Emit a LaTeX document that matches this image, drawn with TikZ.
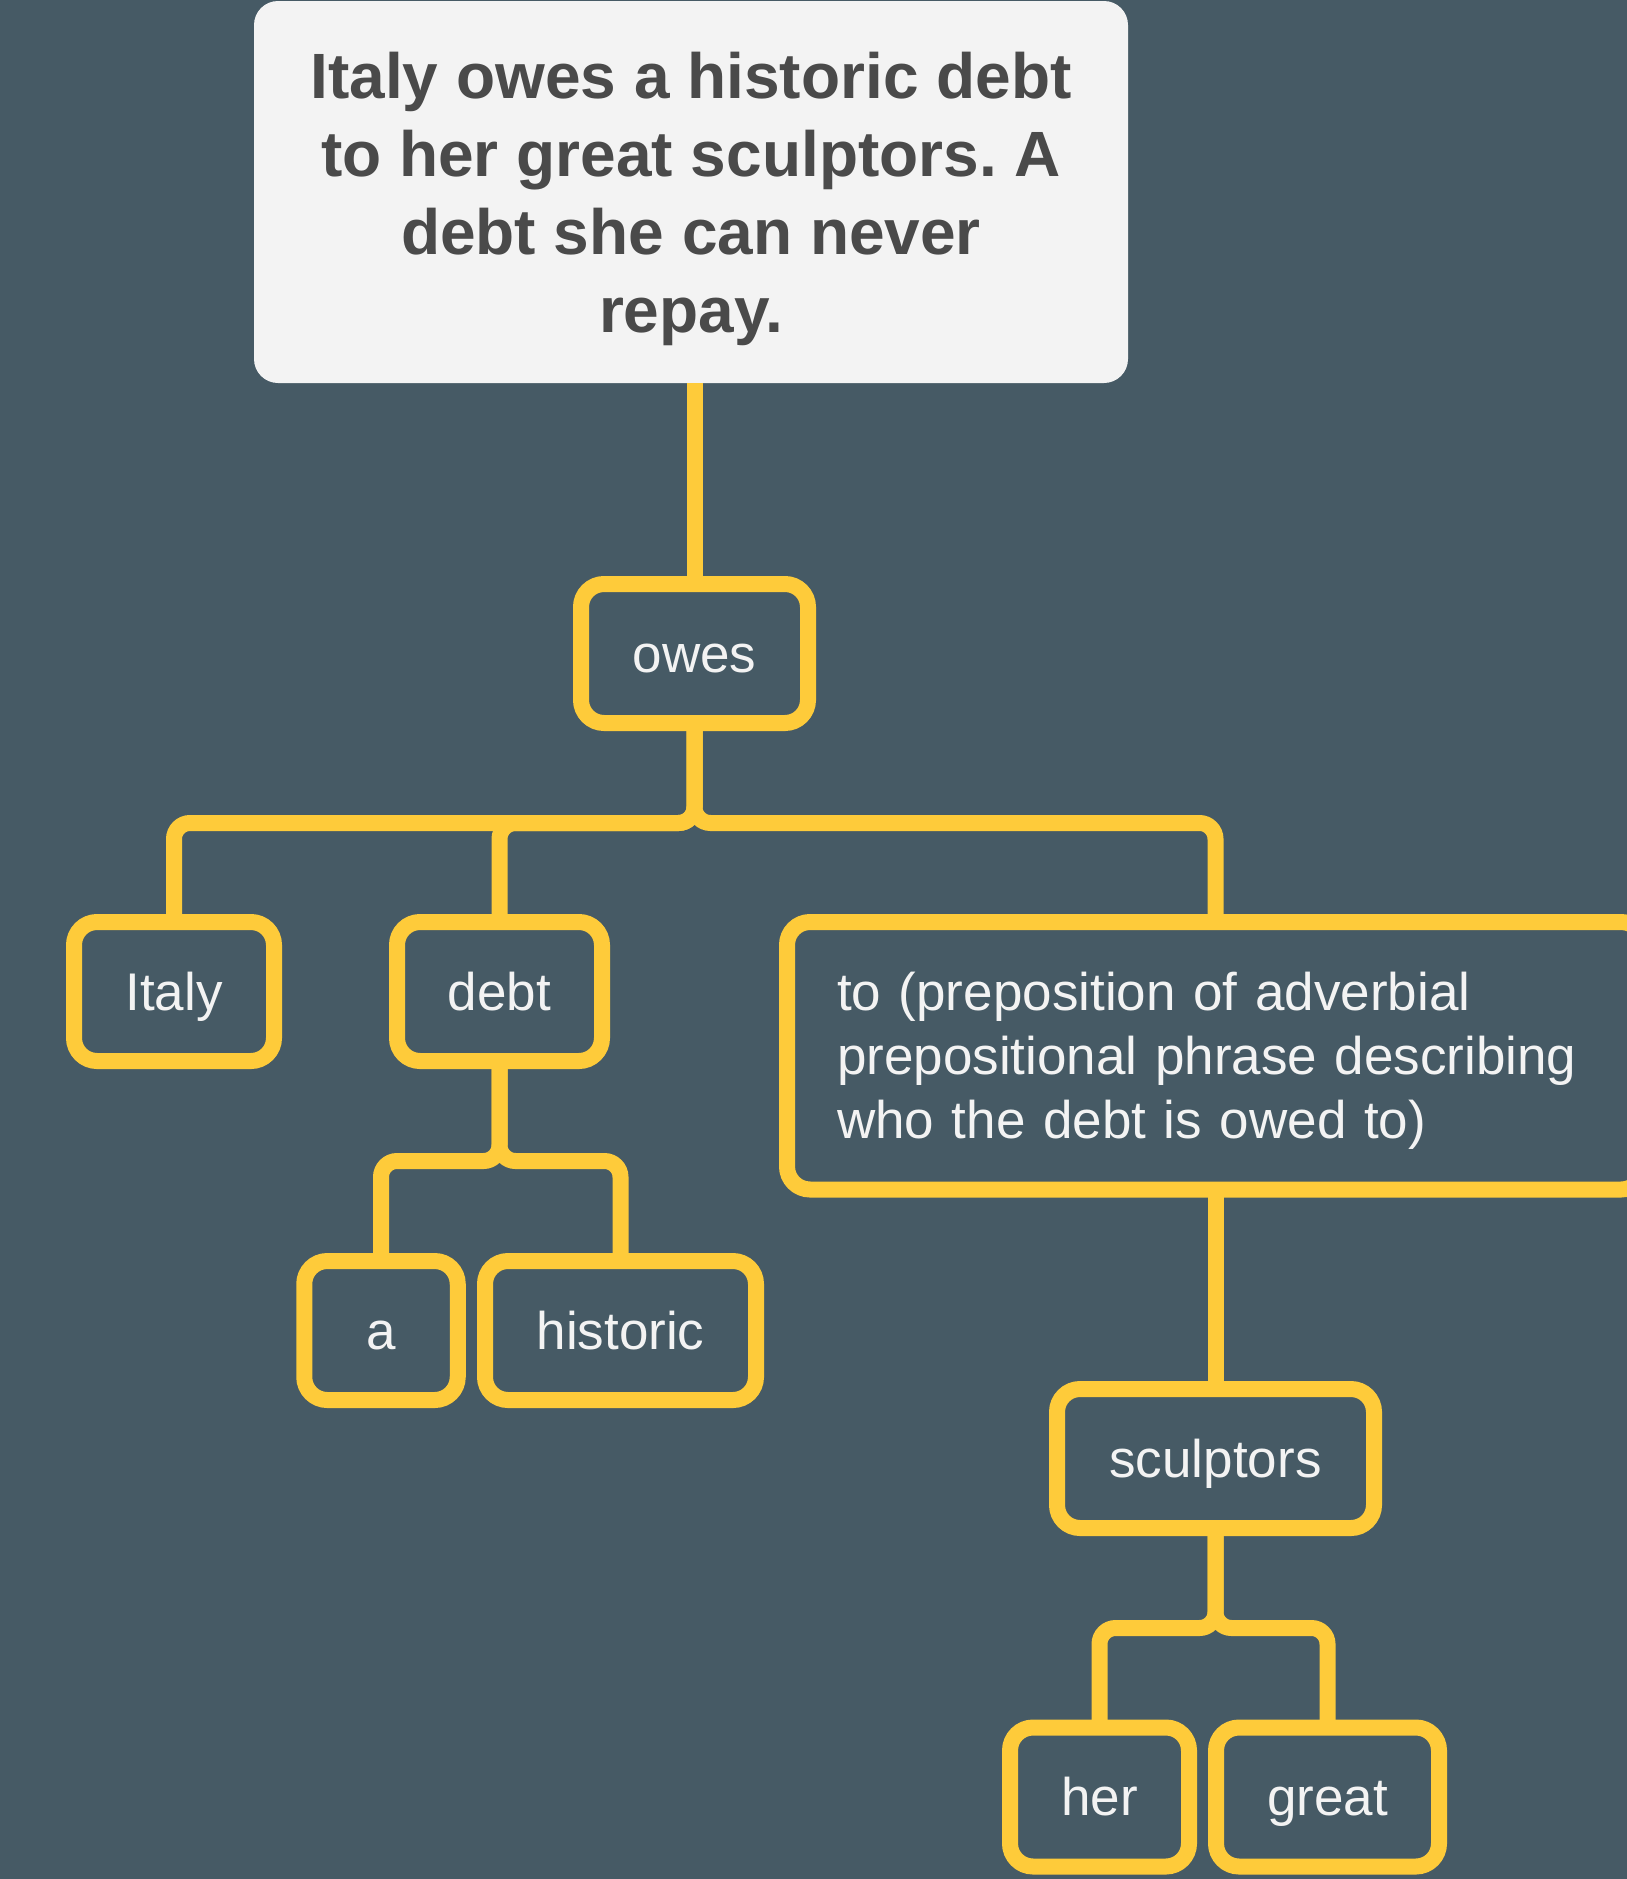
\documentclass[tikz,border=0pt]{standalone}
\usepackage{fontspec}
\setmainfont{Liberation Sans}
\frenchspacing
\definecolor{slate}{HTML}{465A65}
\definecolor{amber}{HTML}{FECB3A}
\definecolor{paper}{HTML}{F3F3F3}
\definecolor{ink}{HTML}{4A4A4A}

\begin{document}
\begin{tikzpicture}[x=0.5pt,y=-0.5pt,box/.style={rectangle,rounded corners=11.5pt,draw=amber,line width=8pt,fill=slate,text=paper,inner sep=0pt,outer sep=0pt,minimum height=69.5pt,font=\fontsize{26.5}{32}\selectfont},word node/.style={box,text height=24pt,text depth=5.5pt},root node/.style={rectangle,rounded corners=12pt,fill=paper,text=ink,inner sep=0pt,outer sep=0pt,align=center,text depth=0pt,font=\fontsize{32}{39}\selectfont\bfseries},branch/.style={draw=amber,line width=8pt,rounded corners=8pt,to path={(\tikztostart) -- ++(0,100) -| (\tikztotarget)}}]
  \useasboundingbox (0,0) rectangle (1627,1879);
  \fill[slate] (0,0) rectangle (1627,1879);

  \node[root node,minimum width=437pt,minimum height=191pt] (root) at (691,192) {Italy owes a historic debt\\to her great sculptors. A\\debt she can never\\repay.};
  \node[word node,minimum width=113.5pt] (owes) at (694.5,653.5) {owes};
  \node[word node,minimum width=100pt] (italy) at (174,991.5) {Italy};
  \node[word node,minimum width=102.5pt] (debt) at (499.5,991.5) {debt};
  \node[box,minimum width=428.5pt,minimum height=133.75pt,text width=378.5pt,align=left] (to) at (1215.5,1055.75) {\rule{0pt}{24.3pt}to (preposition of adverbial\\prepositional phrase describing\\who the debt is owed to)};
  \node[word node,minimum width=76.75pt] (a) at (381,1330.5) {a};
  \node[word node,minimum width=135.5pt] (historic) at (620.5,1330.5) {historic};
  \node[word node,minimum width=158.5pt] (sculptors) at (1215.5,1458.5) {sculptors};
  \node[word node,minimum width=89.5pt] (her) at (1099.5,1797) {her};
  \node[word node,minimum width=111.5pt] (great) at (1327.5,1797) {great};

\draw[amber,line width=8pt] (owes.north |- root.south) -- (owes.north);
\draw[amber,line width=8pt] (to.south) -- (sculptors.north);
\path[branch]
  (owes.south) edge (italy.north)
  (owes.south) edge (debt.north)
  (owes.south) edge (to.north)
  (debt.south) edge (a.north)
  (debt.south) edge (historic.north)
  (sculptors.south) edge (her.north)
  (sculptors.south) edge (great.north)
;
\end{tikzpicture}
\end{document}
